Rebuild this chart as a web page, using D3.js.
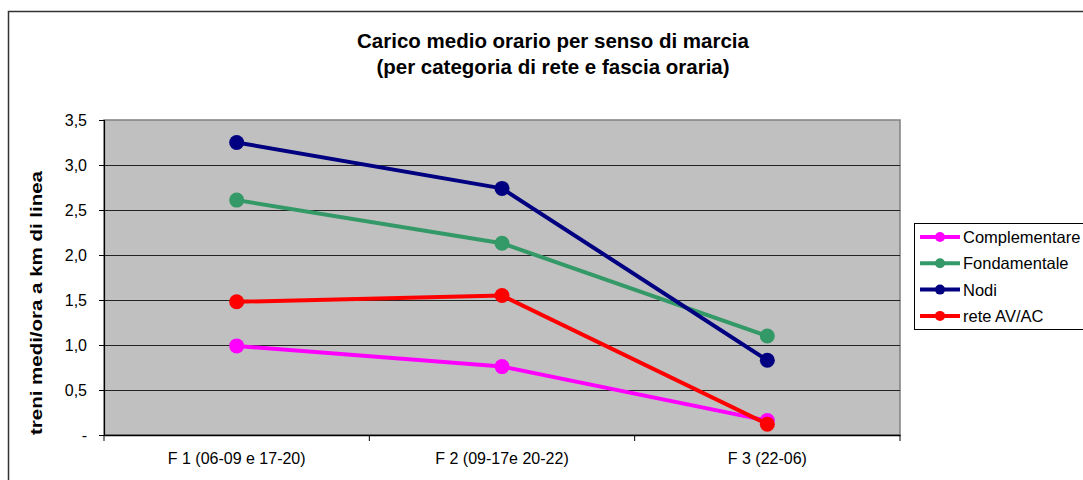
<!DOCTYPE html>
<html><head><meta charset="utf-8">
<script src="https://cdn.jsdelivr.net/npm/d3@7"></script>
<style>body{margin:0;background:#fff}svg{display:block;font-family:"Liberation Sans",Arial,sans-serif}</style>
</head><body><svg id="c" width="1083" height="480"></svg>
<script>
const categories = ["F 1 (06-09 e 17-20)", "F 2 (09-17e 20-22)", "F 3 (22-06)"];
const seriesNames = ["Complementare", "Fondamentale", "Nodi", "rete AV/AC"];
const complementare = [0.99, 0.76, 0.16];
const fondamentale = [2.61, 2.13, 1.10];
const nodi = [3.25, 2.74, 0.83];
const reteAVAC = [1.48, 1.55, 0.12];
const yTicks = [0, 0.5, 1.0, 1.5, 2.0, 2.5, 3.0, 3.5];
const colors = ["#FF00FF", "#339966", "#000080", "#FF0000"];
const titleLines = ["Carico medio orario per senso di marcia", "(per categoria di rete e fascia oraria)"];
const yLabel = "treni medi/ora a km di linea";

const series = [complementare, fondamentale, nodi, reteAVAC].map((v, i) => ({name: seriesNames[i], values: v, color: colors[i]}));
const svg = d3.select("#c");
const L = 104, R = 900, T = 120, B = 435;

// outer border
svg.append("rect").attr("x", 8.5).attr("y", 11.5).attr("width", 1100).attr("height", 500)
  .attr("fill", "#fff").attr("stroke", "#333").attr("stroke-width", 1.5);

const x = d3.scaleBand().domain(categories).range([L, R]).padding(0);
const y = d3.scaleLinear().domain([0, 3.5]).range([B, T]);

svg.append("rect").attr("x", L).attr("y", T).attr("width", R - L).attr("height", B - T)
  .attr("fill", "#C0C0C0").attr("stroke", "#808080").attr("stroke-width", 1.5);

// grid
svg.append("g").selectAll("line").data(yTicks.filter(d => d > 0 && d < 3.5)).join("line")
  .attr("x1", L).attr("x2", R).attr("y1", d => Math.round(y(d)) + 0.5).attr("y2", d => Math.round(y(d)) + 0.5)
  .attr("stroke", "#222").attr("stroke-width", 1);

// y axis
const yAxis = d3.axisLeft(y).tickValues(yTicks).tickSize(5).tickPadding(12)
  .tickFormat(d => d === 0 ? "-" : d3.format(".1f")(d).replace(".", ","));
const gy = svg.append("g").attr("transform", `translate(${L},0)`).call(yAxis);
gy.select(".domain").attr("stroke", "#000").attr("stroke-width", 1.2);
gy.selectAll(".tick line").attr("stroke", "#000");
gy.selectAll("text").attr("font-size", 16).attr("fill", "#000").attr("font-family", "Liberation Sans, Arial, sans-serif");

// x axis
const xAxis = d3.axisBottom(x).tickSize(0).tickPadding(18);
const gx = svg.append("g").attr("transform", `translate(0,${B})`).call(xAxis);
gx.select(".domain").attr("stroke", "#000").attr("stroke-width", 1.5);
gx.selectAll("text").attr("font-size", 16).attr("fill", "#000").attr("font-family", "Liberation Sans, Arial, sans-serif");
const bounds = categories.map(c => x(c)).concat([R]);
svg.append("g").selectAll("line").data(bounds).join("line")
  .attr("x1", d => d).attr("x2", d => d).attr("y1", B).attr("y2", B + 6).attr("stroke", "#000");

// lines
const cx = i => x(categories[i]) + x.bandwidth() / 2;
const line = d3.line().x((d, i) => cx(i)).y(d => y(d));
const gs = svg.append("g").selectAll("g").data(series).join("g");
gs.append("path").attr("d", d => line(d.values)).attr("fill", "none")
  .attr("stroke", d => d.color).attr("stroke-width", 4).attr("stroke-linejoin", "round");
gs.selectAll("circle").data(d => d.values.map(v => ({v, c: d.color}))).join("circle")
  .attr("cx", (d, i) => cx(i)).attr("cy", d => y(d.v)).attr("r", 7.5).attr("fill", d => d.c);

// title
svg.append("g").selectAll("text").data(titleLines).join("text")
  .attr("x", 553).attr("y", (d, i) => 48 + i * 26).attr("text-anchor", "middle")
  .attr("font-size", 20.5).attr("font-weight", "bold").text(d => d);

// y label
svg.append("text").attr("transform", "translate(42,303) rotate(-90)").attr("text-anchor", "middle")
  .attr("font-size", 16).attr("font-weight", "bold").attr("textLength", 264).attr("lengthAdjust", "spacingAndGlyphs").text(yLabel);

// legend
const lg = svg.append("g");
lg.append("rect").attr("x", 914.5).attr("y", 223.5).attr("width", 200).attr("height", 106)
  .attr("fill", "#fff").attr("stroke", "#000").attr("stroke-width", 1);
const li = lg.selectAll("g").data(series).join("g").attr("transform", (d, i) => `translate(0,${237 + i * 26.3})`);
li.append("line").attr("x1", 920).attr("x2", 960).attr("stroke", d => d.color).attr("stroke-width", 4);
li.append("circle").attr("cx", 940).attr("r", 5).attr("fill", d => d.color);
li.append("text").attr("x", 963).attr("y", 6).attr("font-size", 16.5).text(d => d.name);
</script></body></html>
